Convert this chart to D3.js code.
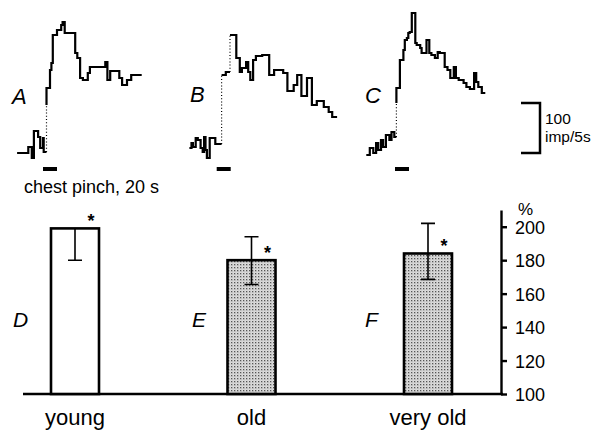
<!DOCTYPE html>
<html lang="en">
<head>
<meta charset="utf-8">
<title>chest pinch</title>
<script src="https://cdn.jsdelivr.net/npm/d3@7"></script>
<style>
  body { margin: 0; background: #fff; }
  svg { display: block; font-family: "Liberation Sans", Arial, Helvetica, sans-serif; }
  .trace { fill: none; stroke: #000; stroke-width: 2.2; stroke-linejoin: miter; }
  .dots { fill: none; stroke: #000; stroke-width: 1.2; stroke-dasharray: 1 2.2; }
  .axis path, .axis line { stroke: #000; stroke-width: 2.4; }
  .axis text { font-size: 18px; fill: #000; }
</style>
</head>
<body>
<script>
// ---- top: rate histograms (imp/5s), times in s relative to pinch onset ----
var edgesA = [-37,-21,-16,-13,-7,-4,0,1,5,10,12,14,20,26,28,31,46,49,53,57,64,67,89,92,96,109,113,120,126,141];
var ratesA = [34,46,24,78,66,44,64,36,164,200,214,270,280,290,296,274,234,224,184,180,194,206,216,180,198,184,170,180,190];
var dotTimesA = [5];
var dotTopsA = [130];

var edgesB = [-39,-36,-34,-30,-27,-23,-20,-18,-16,-14,-10,-2,7,13,19,28,33,36,42,45,48,52,56,65,75,82,95,101,110,115,121,129,136,143,153,160,165,172];
var ratesB = [44,54,46,64,60,44,36,66,40,24,64,52,190,196,270,224,196,204,216,196,180,220,228,230,190,200,194,158,170,190,148,184,130,138,126,116,106];
var dotTimesB = [7, 19];
var dotTopsB = [190, 270];

var edgesC = [-41,-36,-31,-27,-24,-20,-17,-13,-8,-5,-1,2,7,12,14,17,19,21,24,29,31,36,38,45,49,52,57,61,64,71,75,79,84,87,91,98,102,107,113,116,119,124,129];
var ratesC = [30,44,34,54,40,60,46,70,60,76,66,164,220,240,260,264,274,276,314,254,250,244,234,260,234,230,224,236,234,206,200,184,206,184,180,174,166,162,194,176,166,154];
var dotTimesC = [2];
var dotTopsC = [134];

var traceNames = ["A", "B", "C"];
var pinchSec = [0, 20];
var scaleBar = [34, 134];   // 100 imp/5s

// ---- bottom: response in % of control ----
var groups = ["young", "old", "very old"];
var groupLetters = ["D", "E", "F"];
var means = [199, 180, 184];
var errLow = [180, 165.5, 168.5];
var errHigh = [199, 194, 202];
var yTicks = [100, 120, 140, 160, 180, 200];

var W = 601, H = 432;
var svg = d3.select("body").append("svg").attr("width", W).attr("height", H);
svg.append("rect").attr("width", W).attr("height", H).attr("fill", "#fff");

var defs = svg.append("defs");
var pat = defs.append("pattern").attr("id", "stip").attr("patternUnits", "userSpaceOnUse")
  .attr("width", 3).attr("height", 3);
pat.append("rect").attr("width", 3).attr("height", 3).attr("fill", "#dcdcdc");
pat.append("rect").attr("width", 1.3).attr("height", 1.3).attr("fill", "#555");
pat.append("rect").attr("x", 1.5).attr("y", 1.5).attr("width", 0.8).attr("height", 0.8).attr("fill", "#999");

// shared rate scale for the three traces
var yTr = d3.scaleLinear().domain([0, 100]).range([170, 120]);
var onsetX = [43, 216.7, 395];
var labelX = [12, 190, 365];
var labelY = [104, 102, 103];

var traces = [
  {e: edgesA, r: ratesA, dt: dotTimesA, dtop: dotTopsA},
  {e: edgesB, r: ratesB, dt: dotTimesB, dtop: dotTopsB},
  {e: edgesC, r: ratesC, dt: dotTimesC, dtop: dotTopsC}
];

var stepLine = d3.line().curve(d3.curveStepAfter);

traces.forEach(function(tr, k) {
  var xs = d3.scaleLinear().domain([0, 20]).range([onsetX[k], onsetX[k] + 14]);
  var g = svg.append("g");
  var segs = [];
  var cur = [];
  for (var i = 0; i < tr.r.length; i++) {
    var di = tr.dt.indexOf(tr.e[i]);
    if (di >= 0 && i > 0) {
      cur.push([xs(tr.e[i]), yTr(tr.r[i - 1])]);
      segs.push(cur);
      g.append("line").attr("class", "dots")
        .attr("x1", xs(tr.e[i])).attr("x2", xs(tr.e[i]))
        .attr("y1", yTr(tr.r[i - 1])).attr("y2", yTr(tr.dtop[di]));
      cur = [[xs(tr.e[i]), yTr(tr.dtop[di])]];
    }
    cur.push([xs(tr.e[i]), yTr(tr.r[i])]);
  }
  cur.push([xs(tr.e[tr.e.length - 1]), yTr(tr.r[tr.r.length - 1])]);
  segs.push(cur);
  g.selectAll("path.trace").data(segs).enter().append("path")
    .attr("class", "trace").attr("d", function(d) { return stepLine(d); });

  // pinch marker
  g.append("rect")
    .attr("x", xs(pinchSec[0])).attr("width", xs(pinchSec[1]) - xs(pinchSec[0]))
    .attr("y", 167).attr("height", 4).attr("fill", "#000");

  g.append("text").attr("x", labelX[k]).attr("y", labelY[k])
    .attr("font-size", 22).attr("font-style", "italic").text(traceNames[k]);
});

svg.append("text").attr("x", 24).attr("y", 193).attr("font-size", 18).text("chest pinch, 20 s");

// calibration bracket
var sbx = 540;
svg.append("path")
  .attr("d", "M" + (sbx - 19) + "," + yTr(scaleBar[1]) + "H" + sbx + "V" + yTr(scaleBar[0]) + "H" + (sbx - 19))
  .attr("fill", "none").attr("stroke", "#000").attr("stroke-width", 2.5);
svg.append("text").attr("x", 545).attr("y", 124).attr("font-size", 15.5).text("100");
svg.append("text").attr("x", 545).attr("y", 142).attr("font-size", 15.5).text("imp/5s");

// ---- bar chart ----
var y = d3.scaleLinear().domain([100, 210]).range([394, 210]);
var x = d3.scalePoint().domain(groups).range([75, 428]);
var bw = 48;

var axis = d3.axisRight(y).tickValues(yTicks).tickSize(6).tickPadding(8).tickSizeOuter(0);
svg.append("g").attr("class", "axis").attr("transform", "translate(501,0)").call(axis)
  .call(function(g) { g.selectAll(".tick text").attr("dy", "0.36em"); });

svg.append("text").attr("x", 518).attr("y", 215).attr("font-size", 17).text("%");

// baseline
svg.append("line").attr("x1", 23).attr("x2", 503).attr("y1", y(100)).attr("y2", y(100))
  .attr("stroke", "#000").attr("stroke-width", 2.5);

var bars = svg.selectAll("g.bar").data(groups).enter().append("g").attr("class", "bar");
bars.append("rect")
  .attr("x", function(d) { return x(d) - bw / 2; })
  .attr("y", function(d, i) { return y(means[i]); })
  .attr("width", bw)
  .attr("height", function(d, i) { return y(100) - y(means[i]); })
  .attr("fill", function(d, i) { return i === 0 ? "#fff" : "url(#stip)"; })
  .attr("stroke", "#000").attr("stroke-width", 2.6);

bars.append("path")
  .attr("d", function(d, i) {
    var cx = x(d), c = 7;
    var p = "M" + cx + "," + y(errHigh[i]) + "V" + y(errLow[i]);
    p += "M" + (cx - c) + "," + y(errLow[i]) + "H" + (cx + c);
    if (errHigh[i] > means[i]) p += "M" + (cx - c) + "," + y(errHigh[i]) + "H" + (cx + c);
    return p;
  })
  .attr("fill", "none").attr("stroke", "#000").attr("stroke-width", 1.6);

bars.append("text")
  .attr("x", function(d) { return x(d) + bw / 2 - 8; })
  .attr("y", function(d, i) { return y(means[i]) - 1; })
  .attr("text-anchor", "middle").attr("font-size", 18).attr("font-weight", "bold").text("*");

bars.append("text")
  .attr("x", function(d) { return x(d); })
  .attr("y", 425).attr("text-anchor", "middle").attr("font-size", 22)
  .text(function(d) { return d; });

var letterX = [13, 192, 365];
svg.selectAll("text.letter").data(groupLetters).enter().append("text").attr("class", "letter")
  .attr("x", function(d, i) { return letterX[i]; }).attr("y", 327)
  .attr("font-size", 21).attr("font-style", "italic").text(function(d) { return d; });
</script>
</body>
</html>
